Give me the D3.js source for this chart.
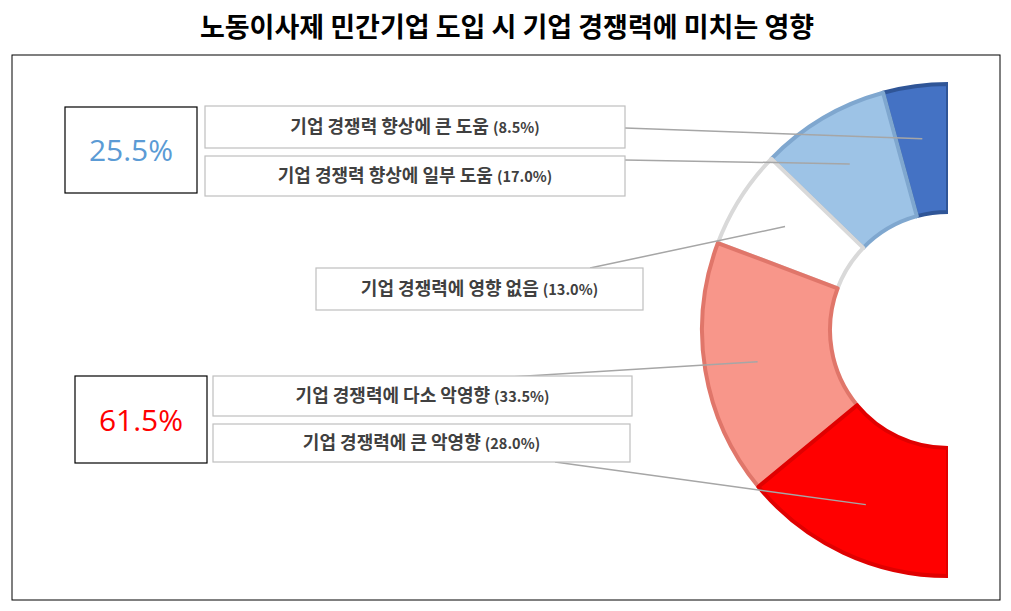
<!DOCTYPE html>
<html><head><meta charset="utf-8">
<script src="https://cdn.jsdelivr.net/npm/d3@7"></script>
<style>
body{margin:0;background:#fff;font-family:"Noto Sans CJK KR","Noto Sans",sans-serif;}
</style></head>
<body>
<svg id="chart" width="1011" height="611"></svg>
<script>
const categories = ["기업 경쟁력 향상에 큰 도움","기업 경쟁력 향상에 일부 도움","기업 경쟁력에 영향 없음","기업 경쟁력에 다소 악영향","기업 경쟁력에 큰 악영향"];
const values = [8.5, 17.0, 13.0, 33.5, 28.0];
const fills = ["#4472C4","#9DC3E6","#ffffff","#F8968A","#FF0000"];
const strokes = ["#2F5597","#7FA7CF","#D9D9D9","#E0766A","#E00000"];
const summaryLabels = ["25.5%","61.5%"];
const summaryColors = ["#5B9BD5","#FF0000"];

// label box layout [x, y, w, h, lineStartX, lineStartY]
const boxes = [
  [205,106,420,42,625,128],
  [205,156,420,40,625,160],
  [316,268,327,42,590,268],
  [213,376,419,40,510,377],
  [213,424,417,38,555,462]
];

const svg = d3.select("#chart");
svg.append("text").attr("x",507).attr("y",37).attr("text-anchor","middle")
  .attr("font-size",27).attr("font-weight","bold").attr("fill","#000")
  .text("노동이사제 민간기업 도입 시 기업 경쟁력에 미치는 영향");
svg.append("rect").attr("x",12).attr("y",55).attr("width",988).attr("height",545)
  .attr("fill","none").attr("stroke","#000").attr("stroke-width",1);

const cx = 948, cy = 330, r0 = 118, r1 = 246;
const total = d3.sum(values) * 2;
const pie = d3.pie().sort(null).value(d => d)
  .startAngle(0).endAngle(-2 * Math.PI);
const arcs = pie(values.concat([total / 2])).slice(0, values.length);
const arc = d3.arc().innerRadius(r0).outerRadius(r1);

svg.append("clipPath").attr("id","c").append("rect")
  .attr("x",0).attr("y",0).attr("width",cx).attr("height",611);
const g = svg.append("g").attr("clip-path","url(#c)")
  .append("g").attr("transform",`translate(${cx},${cy})`);
g.selectAll("path").data(arcs).enter().append("path")
  .attr("d", arc).attr("fill",(d,i)=>fills[i])
  .attr("stroke",(d,i)=>strokes[i]).attr("stroke-width",4).attr("stroke-linejoin","round");

// leader lines
const lr = d3.arc().innerRadius(r0 + 50).outerRadius(r0 + 100);
arcs.forEach((d,i) => {
  const c = lr.centroid(d);
  const b = boxes[i];
  svg.append("line").attr("x1",b[4]).attr("y1",b[5])
    .attr("x2",cx + c[0]).attr("y2",cy + c[1])
    .attr("stroke","#A6A6A6").attr("stroke-width",1.5);
});

// label boxes
boxes.forEach((b,i) => {
  svg.append("rect").attr("x",b[0]).attr("y",b[1]).attr("width",b[2]).attr("height",b[3])
    .attr("fill","#fff").attr("stroke","#BFBFBF").attr("stroke-width",1.2);
  const t = svg.append("text").attr("x",b[0]+b[2]/2).attr("y",b[1]+b[3]/2+6)
    .attr("text-anchor","middle").attr("fill","#404040").attr("font-weight","bold");
  t.append("tspan").attr("font-size",18).text(categories[i] + " ");
  t.append("tspan").attr("font-size",14.5).text(`(${values[i].toFixed(1)}%)`);
});

// summary boxes
[[65,107,132,86],[75,376,132,87]].forEach((b,i) => {
  svg.append("rect").attr("x",b[0]).attr("y",b[1]).attr("width",b[2]).attr("height",b[3])
    .attr("fill","#fff").attr("stroke","#000").attr("stroke-width",1.2);
  svg.append("text").attr("x",b[0]+b[2]/2).attr("y",b[1]+b[3]/2+11)
    .attr("text-anchor","middle").attr("font-size",30).attr("fill",summaryColors[i])
    .attr("font-family","'Open Sans',sans-serif").text(summaryLabels[i]);
});
</script>
</body></html>
